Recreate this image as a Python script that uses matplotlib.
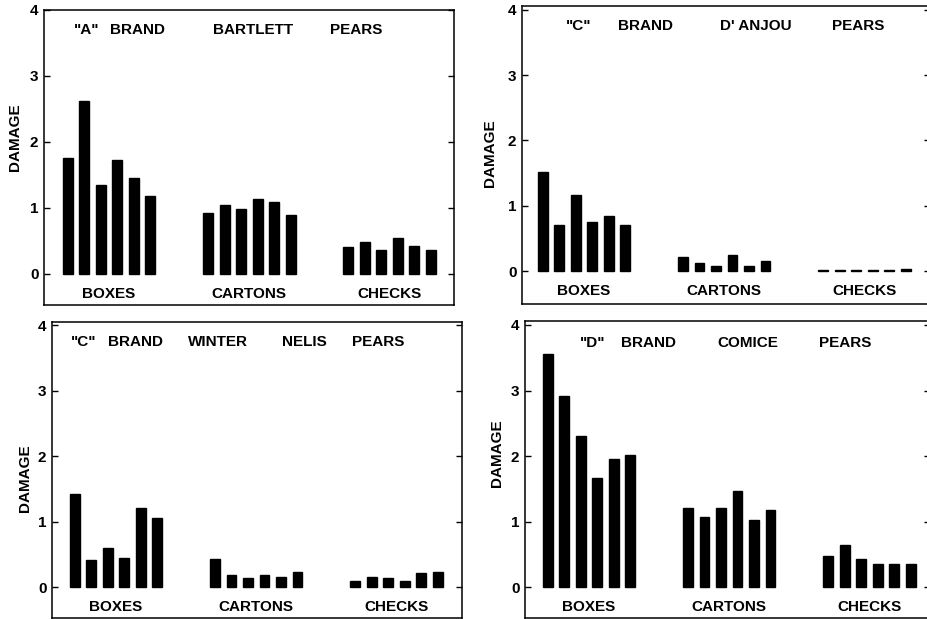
import matplotlib
matplotlib.use("Agg")
import matplotlib.pyplot as plt
import numpy as np

plt.rcParams['font.family'] = ['Liberation Sans', 'DejaVu Sans']
plt.rcParams['font.weight'] = 'bold'

# ---- data ----
categories = ["BOXES", "CARTONS", "CHECKS"]

a_bartlett_boxes = [1.75, 2.62, 1.35, 1.72, 1.46, 1.18]
a_bartlett_cartons = [0.93, 1.04, 0.99, 1.13, 1.09, 0.89]
a_bartlett_checks = [0.41, 0.48, 0.36, 0.55, 0.43, 0.37]

c_anjou_boxes = [1.52, 0.71, 1.16, 0.75, 0.84, 0.71]
c_anjou_cartons = [0.21, 0.12, 0.08, 0.24, 0.08, 0.15]
c_anjou_checks = [0.01, 0.02, 0.01, 0.02, 0.01, 0.03]

c_nelis_boxes = [1.43, 0.41, 0.60, 0.44, 1.21, 1.06]
c_nelis_cartons = [0.43, 0.18, 0.14, 0.18, 0.15, 0.23]
c_nelis_checks = [0.10, 0.16, 0.14, 0.10, 0.22, 0.24]

d_comice_boxes = [3.55, 2.92, 2.31, 1.67, 1.96, 2.01]
d_comice_cartons = [1.21, 1.07, 1.21, 1.46, 1.02, 1.17]
d_comice_checks = [0.48, 0.64, 0.43, 0.35, 0.35, 0.36]

title_a = ['"A"', 'BRAND', 'BARTLETT', 'PEARS']
title_b = ['"C"', 'BRAND', "D' ANJOU", 'PEARS']
title_c = ['"C"', 'BRAND', 'WINTER', 'NELIS', 'PEARS']
title_d = ['"D"', 'BRAND', 'COMICE', 'PEARS']

yticks = [0, 1, 2, 3, 4]
ytick_labels = ["0", "1", "2", "3", "4"]

# ---- layout ----
W, H = 927, 619
fig = plt.figure(figsize=(W / 100, H / 100), dpi=100)

panels = [
    dict(rect=[0.0475, 0.5073, 0.4423, 0.4766], xlim=(-3.94, 20.9), ylim=(-0.47, 4.0),
         data=[a_bartlett_boxes, a_bartlett_cartons, a_bartlett_checks],
         title=title_a, tx=[-1.33, 1.7, 8.7, 15.0], ty=3.70, ylab=(15, 137)),
    dict(rect=[0.5631, 0.5089, 0.4401, 0.4814], xlim=(-3.76, 20.97), ylim=(-0.505, 4.06),
         data=[c_anjou_boxes, c_anjou_cartons, c_anjou_checks],
         title=title_b, tx=[-0.3, 3.7, 10.4, 16.6], ty=3.75, ylab=(490, 153)),
    dict(rect=[0.0561, 0.0016, 0.4423, 0.4782], xlim=(-3.88, 20.97), ylim=(-0.47, 4.05),
         data=[c_nelis_boxes, c_nelis_cartons, c_nelis_checks],
         title=title_c, tx=[-1.94, 1.21, 6.2, 11.4, 15.9], ty=3.74, ylab=(25, 478)),
    dict(rect=[0.5663, 0.0016, 0.4369, 0.4798], xlim=(-3.88, 20.66), ylim=(-0.47, 4.06),
         data=[d_comice_boxes, d_comice_cartons, d_comice_checks],
         title=title_d, tx=[0.2, 3.6, 9.6, 15.5], ty=3.72, ylab=(497, 453)),
]

group_centers = [0.0, 8.5, 17.0]
bar_offsets = np.arange(6) - 2.5
bar_width = 0.6

for p in panels:
    ax = fig.add_axes(p['rect'])
    for gc, vals in zip(group_centers, p['data']):
        ax.bar(gc + bar_offsets, vals, width=bar_width, color='black', edgecolor='black')
    for gc, cat in zip(group_centers, categories):
        ax.text(gc, -0.30, cat, ha='center', va='center', fontsize=11, fontweight='bold')
    for x, word in zip(p['tx'], p['title']):
        ax.text(x, p['ty'], word, ha='center', va='center', fontsize=11, fontweight='bold')
    ax.set_xlim(*p['xlim'])
    ax.set_ylim(*p['ylim'])
    ax.set_xticks([])
    ax.set_yticks(yticks)
    ax.set_yticklabels(ytick_labels, fontsize=11, fontweight='bold')
    ax.tick_params(axis='y', direction='in', length=4, width=1, pad=4, right=True)
    for s in ax.spines.values():
        s.set_linewidth(1.1)
    fig.text(p['ylab'][0] / W, 1 - p['ylab'][1] / H, "DAMAGE", rotation=90,
             ha='center', va='center', fontsize=11, fontweight='bold')

fig.savefig("out.png", dpi=100, facecolor='white')
